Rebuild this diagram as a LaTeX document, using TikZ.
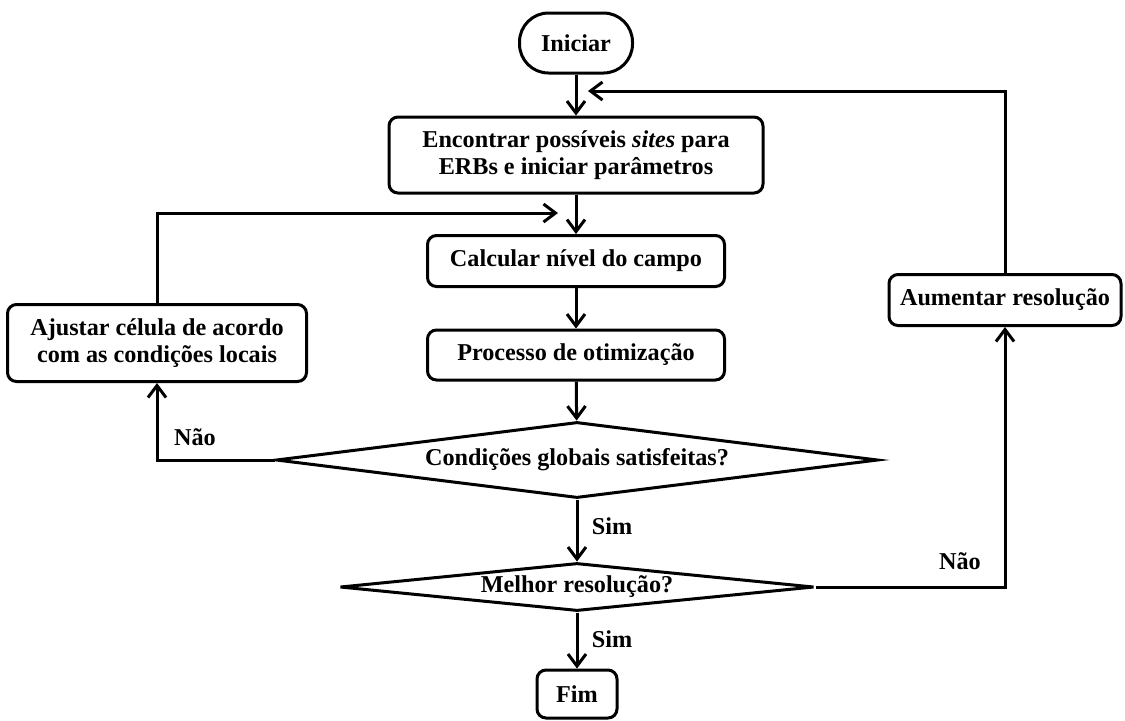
\documentclass[tikz,border=0pt]{standalone}
\usepackage{fontspec}
\setmainfont{Liberation Serif}
\usetikzlibrary{arrows.meta,shapes.geometric}
\begin{document}
\begin{tikzpicture}[x=0.5pt,y=-0.5pt,
  every node/.style={font=\fontsize{12.1}{13.6}\selectfont\bfseries},
  box/.style={draw,line width=1.5pt,rounded corners=4.5pt,inner sep=0pt,align=center},
  dia/.style={draw,line width=1.5pt,diamond,inner sep=0pt,aspect=8},
  conn/.style={line width=1.5pt,-{Straight Barb[length=6pt,width=9pt,line width=1.5pt]}},
  plain/.style={line width=1.5pt},
  lbl/.style={inner sep=0pt}]
\useasboundingbox (0,0) rectangle (1125,720);
\node[box,rounded corners=14.5pt,minimum width=56.5pt,minimum height=30pt] (ini) at (576,43) {Iniciar};
\node[box,minimum width=187pt,minimum height=38pt] (enc) at (576,155) {Encontrar possíveis \textit{sites} para\\ERBs e iniciar parâmetros};
\node[box,minimum width=148.5pt,minimum height=25.5pt] (cal) at (576,261) {Calcular nível do campo};
\node[box,minimum width=148.5pt,minimum height=25pt] (pro) at (576,355) {Processo de otimização};
\node[dia,minimum width=301pt,minimum height=38pt] (cg) at (577,460) {Condições globais satisfeitas?};
\node[dia,minimum width=237pt,minimum height=24pt] (mel) at (577,587) {Melhor resolução?};
\node[box,minimum width=40pt,minimum height=24pt] (fim) at (577,694) {Fim};
\node[box,minimum width=149.5pt,minimum height=38.5pt] (aju) at (157,343) {Ajustar célula de acordo\\com as condições locais};
\node[box,minimum width=116pt,minimum height=25.5pt] (aum) at (1005,300) {Aumentar resolução};
\coordinate (in1) at (558,213);
\coordinate (in2) at (588,91);
\draw[conn] (ini) -- (enc);
\draw[conn] (enc) -- (cal);
\draw[conn] (cal) -- (pro);
\draw[conn] (pro) -- (cg);
\draw[conn] (cg) -- (mel);
\draw[conn] (mel) -- (fim);
\draw[conn] (cg.west) -| (aju.south);
\draw[conn] (aju.north) |- (in1);
\draw[conn] (mel.east) -| (aum.south);
\draw[conn] (aum.north) |- (in2);
\node[lbl] (s1) at (612,526) {Sim};
\node[lbl] (s2) at (612,639) {Sim};
\node[lbl] (n1) at (195,437) {Não};
\node[lbl] (n2) at (960,561) {Não};
\end{tikzpicture}
\end{document}
